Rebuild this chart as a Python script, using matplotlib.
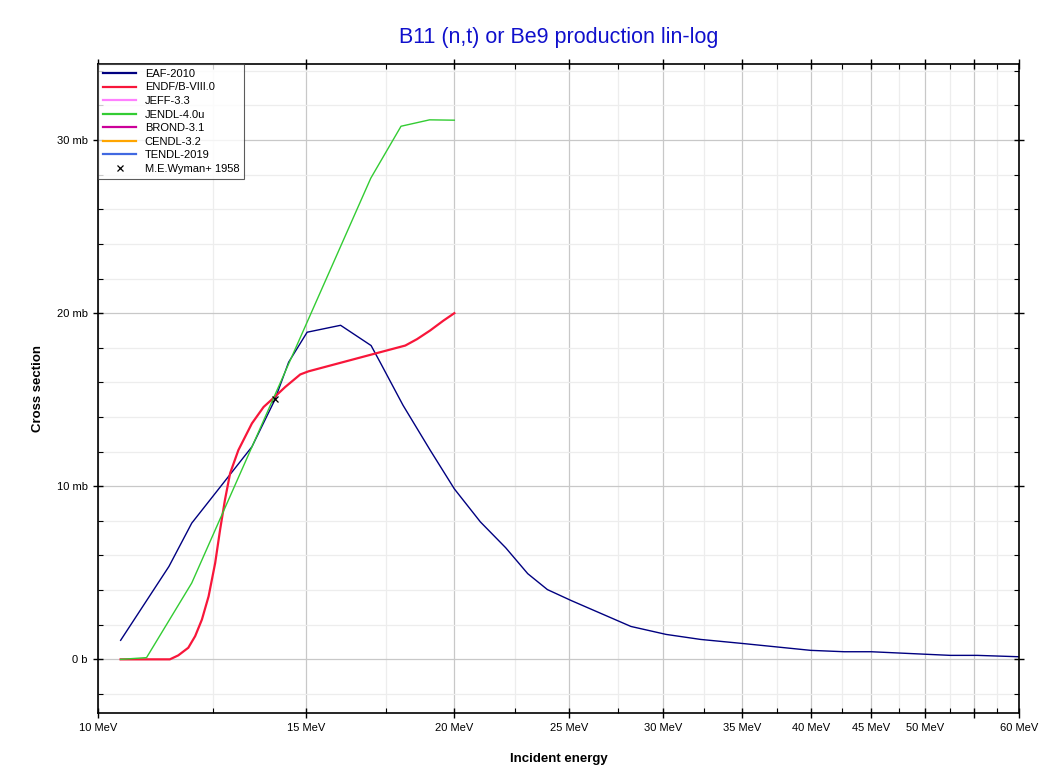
import matplotlib.pyplot as plt
from matplotlib.ticker import FixedLocator, NullFormatter

plt.rcParams['font.family'] = ['Liberation Sans', 'DejaVu Sans']

# ---- data (MeV, mb) ----
eaf_e = [10.45, 11.48, 12.0, 13.49, 14.1, 14.49, 15.02, 16.03, 17.01, 17.31,
         18.1, 19.08, 20.0, 21.04, 22.1, 23.07, 23.97, 25.1, 28.2, 30.2,
         32.3, 35.0, 40.0, 42.7, 45.0, 50.2, 52.5, 55.3, 60.0]
eaf_xs = [1.1, 5.37, 7.87, 12.28, 14.97, 17.17, 18.9, 19.3, 18.13, 17.17,
          14.68, 12.09, 9.85, 7.94, 6.45, 4.95, 4.03, 3.4, 1.9, 1.44,
          1.15, 0.92, 0.52, 0.44, 0.44, 0.29, 0.23, 0.23, 0.15]

endf_e = [10.45, 11.5, 11.69, 11.92, 12.08, 12.24, 12.4, 12.56, 12.68, 12.8,
          12.93, 13.14, 13.49, 13.8, 14.1, 14.39, 14.82, 15.06, 17.0,
          18.18, 18.6, 19.08, 19.58, 20.0]
endf_xs = [0.0, 0.0, 0.23, 0.67, 1.34, 2.3, 3.64, 5.57, 7.48, 9.2,
           10.75, 12.09, 13.63, 14.58, 15.16, 15.73, 16.46, 16.64, 17.6,
           18.13, 18.5, 19.0, 19.57, 20.0]

jendl_e = [10.45, 10.99, 12.0, 17.0, 18.03, 19.06, 20.0]
jendl_xs = [0.0, 0.1, 4.41, 27.8, 30.8, 31.17, 31.15]

wyman_e = [14.1]
wyman_xs = [15.07]

xticks = [10, 15, 20, 25, 30, 35, 40, 45, 50, 55, 60]
xticklabels = ['10 MeV', '15 MeV', '20 MeV', '25 MeV', '30 MeV', '35 MeV',
               '40 MeV', '45 MeV', '50 MeV', '', '60 MeV']
xminor = [12.5, 17.5, 22.5, 27.5, 32.5, 37.5, 42.5, 47.5, 52.5, 57.5]
yticks = [0, 10, 20, 30]
yticklabels = ['0 b', '10 mb', '20 mb', '30 mb']
yminor = [-2, 2, 4, 6, 8, 12, 14, 16, 18, 22, 24, 26, 28, 32, 34]

fig = plt.figure(figsize=(10.63, 7.74), dpi=100)
ax = fig.add_axes([0.0922, 0.0788, 0.8665, 0.8386])

ax.plot(eaf_e, eaf_xs, color='#000080', lw=1.0, label='EAF-2010')
ax.plot(endf_e, endf_xs, color='#f8163a', lw=1.6, label='ENDF/B-VIII.0')
ax.plot([], [], color='#ff80ff', lw=1.6, label='JEFF-3.3')
ax.plot(jendl_e, jendl_xs, color='#33cc33', lw=1.0, label='JENDL-4.0u')
ax.plot([], [], color='#cc0099', lw=1.6, label='BROND-3.1')
ax.plot([], [], color='#ffa500', lw=1.6, label='CENDL-3.2')
ax.plot([], [], color='#4169e1', lw=1.6, label='TENDL-2019')
ax.plot(wyman_e, wyman_xs, ls='none', marker='x', ms=5, mew=0.9,
        color='black', label='M.E.Wyman+ 1958')

ax.set_xscale('log')
ax.set_xlim(10, 60)
ax.set_ylim(-3.1, 34.4)

ax.xaxis.set_major_locator(FixedLocator(xticks))
ax.set_xticklabels(xticklabels)
ax.xaxis.set_minor_locator(FixedLocator(xminor))
ax.xaxis.set_minor_formatter(NullFormatter())
ax.set_yticks(yticks)
ax.set_yticklabels(yticklabels)
ax.set_yticks(yminor, minor=True)

ax.tick_params(which='major', direction='inout', length=7, width=1,
               labelsize=8, top=True, right=True, pad=4)
ax.tick_params(which='minor', direction='in', length=3.5, width=0.8,
               top=True, right=True)

ax.grid(True, which='major', color='#c8c8c8', lw=0.9)
ax.grid(True, which='minor', color='#ededed', lw=0.9)
ax.set_axisbelow(True)
for s in ax.spines.values():
    s.set_linewidth(1.2)

ax.set_title('B11 (n,t) or Be9 production lin-log', color='#1010cc',
             fontsize=15.5, pad=15)
ax.set_xlabel('Incident energy', fontsize=9.5, fontweight='bold')
ax.set_ylabel('Cross section', fontsize=9.5, fontweight='bold')
ax.xaxis.set_label_coords(0.5, -0.062)
ax.yaxis.set_label_coords(-0.059, 0.5)

leg = ax.legend(loc='upper left', fontsize=8, frameon=True, fancybox=False,
                borderaxespad=0, handlelength=3.0, handletextpad=0.75,
                labelspacing=0.32, borderpad=0.45)
leg.get_frame().set_edgecolor('#333333')
leg.get_frame().set_linewidth(0.8)
for h in leg.get_lines():
    if h.get_linestyle() != 'None':
        h.set_linewidth(1.6)

fig.savefig('out.png', dpi=100)
